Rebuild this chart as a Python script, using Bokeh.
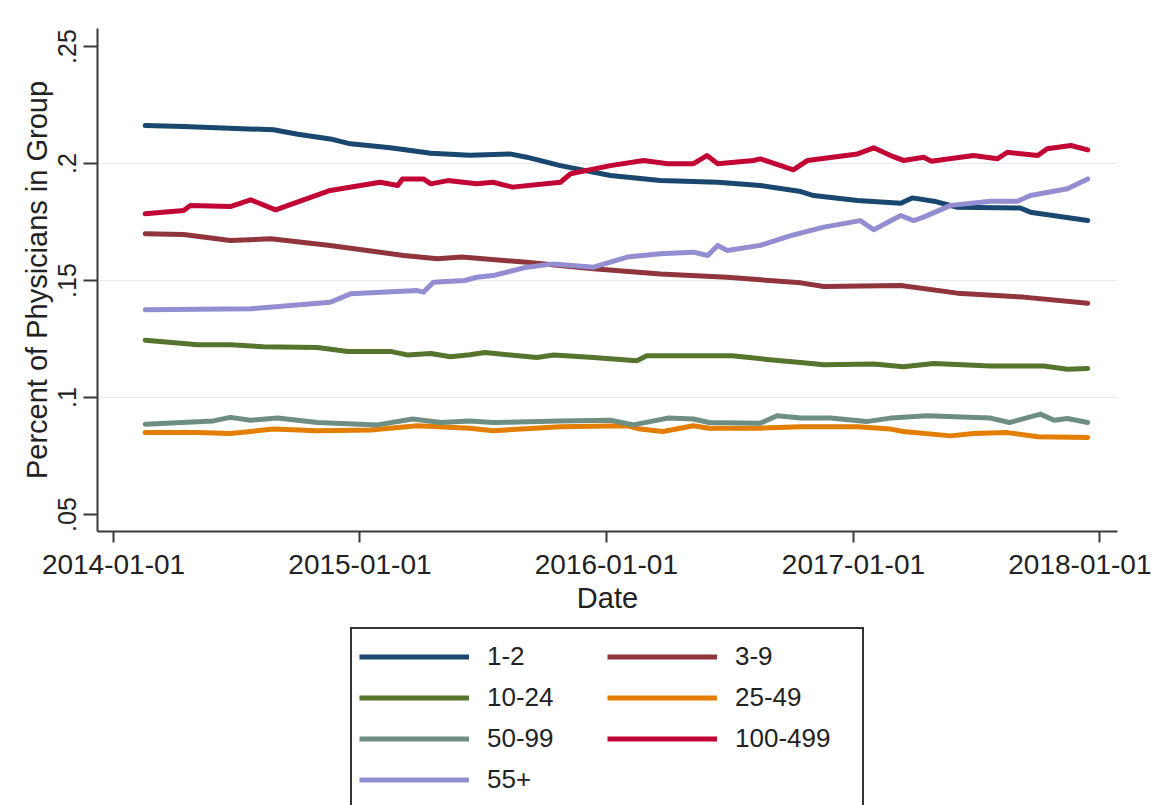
import pandas as pd
from bokeh.plotting import figure
from bokeh.layouts import column
from bokeh.models import Range1d, FixedTicker, DatetimeTickFormatter, Legend, LegendItem
from bokeh.embed import file_html
from bokeh.resources import INLINE

# ---------------- data ----------------
labels = ["1-2", "3-9", "10-24", "25-49", "50-99", "100-499", "55+"]
colors = ["#1a476f", "#90353b", "#55752f", "#e37e00", "#6e8e84", "#c10534", "#938dd2"]

d_1_2 = ["2014-02-17", "2014-04-15", "2014-07-01", "2014-08-26", "2014-10-01", "2014-11-18",
         "2014-12-18", "2015-02-15", "2015-04-16", "2015-06-13", "2015-08-11", "2015-09-05",
         "2015-10-25", "2016-01-07", "2016-03-21", "2016-06-14", "2016-08-16", "2016-10-15",
         "2016-11-03", "2017-01-07", "2017-03-12", "2017-03-29", "2017-04-30", "2017-06-04",
         "2017-09-05", "2017-09-20", "2017-12-14"]
v_1_2 = [0.2162, 0.2158, 0.2150, 0.2144, 0.2125, 0.2105,
         0.2084, 0.2067, 0.2044, 0.2035, 0.2041, 0.2027,
         0.1991, 0.1949, 0.1927, 0.1920, 0.1906, 0.1880,
         0.1863, 0.1842, 0.1830, 0.1853, 0.1839, 0.1813,
         0.1810, 0.1792, 0.1756]

d_3_9 = ["2014-02-17", "2014-04-15", "2014-06-23", "2014-08-22", "2014-11-18", "2015-03-07",
         "2015-04-26", "2015-06-01", "2015-09-05", "2015-12-13", "2016-03-21", "2016-06-28",
         "2016-10-15", "2016-11-18", "2017-03-12", "2017-06-04", "2017-09-10", "2017-12-14"]
v_3_9 = [0.1700, 0.1697, 0.1671, 0.1678, 0.1650, 0.1607,
         0.1593, 0.1600, 0.1578, 0.1550, 0.1528, 0.1514,
         0.1490, 0.1474, 0.1479, 0.1446, 0.1429, 0.1403]

d_10_24 = ["2014-02-17", "2014-04-15", "2014-05-05", "2014-06-23", "2014-08-11", "2014-10-30",
           "2014-12-14", "2015-02-15", "2015-03-12", "2015-04-16", "2015-05-15", "2015-06-13",
           "2015-07-05", "2015-09-20", "2015-10-15", "2015-12-13", "2016-02-15", "2016-03-01",
           "2016-05-09", "2016-07-05", "2016-09-15", "2016-10-15", "2016-11-18", "2017-01-31",
           "2017-03-16", "2017-04-30", "2017-07-23", "2017-10-10", "2017-11-14", "2017-12-14"]
v_10_24 = [0.1245, 0.1231, 0.1225, 0.1225, 0.1217, 0.1214,
           0.1197, 0.1197, 0.1182, 0.1188, 0.1174, 0.1183,
           0.1192, 0.1171, 0.1182, 0.1171, 0.1157, 0.1178,
           0.1178, 0.1178, 0.1157, 0.1150, 0.1140, 0.1143,
           0.1131, 0.1145, 0.1135, 0.1135, 0.1121, 0.1124]

d_25_49 = ["2014-02-17", "2014-05-05", "2014-06-23", "2014-08-26", "2014-10-30", "2015-01-17",
           "2015-03-27", "2015-06-13", "2015-07-17", "2015-10-25", "2016-02-01", "2016-02-20",
           "2016-03-25", "2016-05-09", "2016-06-01", "2016-08-16", "2016-10-15", "2016-11-18",
           "2017-01-07", "2017-02-25", "2017-03-16", "2017-05-25", "2017-06-28", "2017-08-17",
           "2017-10-01", "2017-12-14"]
v_25_49 = [0.0850, 0.0850, 0.0846, 0.0865, 0.0858, 0.0861,
           0.0879, 0.0869, 0.0858, 0.0875, 0.0879, 0.0865,
           0.0855, 0.0879, 0.0869, 0.0869, 0.0875, 0.0875,
           0.0875, 0.0865, 0.0855, 0.0836, 0.0846, 0.0850,
           0.0832, 0.0829]

d_50_99 = ["2014-02-17", "2014-05-29", "2014-06-23", "2014-07-23", "2014-09-01", "2014-10-30",
           "2015-01-27", "2015-03-20", "2015-05-01", "2015-06-13", "2015-07-17", "2015-10-25",
           "2016-01-07", "2016-02-10", "2016-04-01", "2016-05-09", "2016-06-01", "2016-08-16",
           "2016-09-10", "2016-10-15", "2016-11-28", "2017-01-20", "2017-02-25", "2017-04-20",
           "2017-07-23", "2017-08-20", "2017-10-05", "2017-10-25", "2017-11-14", "2017-12-14"]
v_50_99 = [0.0886, 0.0900, 0.0915, 0.0903, 0.0912, 0.0893,
           0.0883, 0.0908, 0.0893, 0.0900, 0.0893, 0.0900,
           0.0903, 0.0883, 0.0912, 0.0908, 0.0893, 0.0890,
           0.0922, 0.0912, 0.0912, 0.0897, 0.0912, 0.0922,
           0.0912, 0.0893, 0.0929, 0.0903, 0.0910, 0.0893]

d_100_499 = ["2014-02-17", "2014-04-15", "2014-04-25", "2014-06-23", "2014-07-23", "2014-08-29",
             "2014-11-18", "2015-01-31", "2015-02-26", "2015-03-05", "2015-04-05", "2015-04-16",
             "2015-05-11", "2015-06-23", "2015-07-17", "2015-08-15", "2015-10-25", "2015-11-09",
             "2016-01-07", "2016-02-25", "2016-04-01", "2016-05-09", "2016-05-29", "2016-06-14",
             "2016-08-06", "2016-08-16", "2016-10-04", "2016-10-25", "2017-01-07", "2017-01-31",
             "2017-02-25", "2017-03-16", "2017-04-15", "2017-04-26", "2017-06-28", "2017-08-02",
             "2017-08-17", "2017-10-01", "2017-10-15", "2017-11-19", "2017-12-14"]
v_100_499 = [0.1785, 0.1799, 0.1821, 0.1816, 0.1845, 0.1802,
             0.1885, 0.1920, 0.1906, 0.1934, 0.1934, 0.1913,
             0.1927, 0.1913, 0.1920, 0.1899, 0.1920, 0.1956,
             0.1991, 0.2013, 0.1999, 0.1999, 0.2034, 0.1999,
             0.2013, 0.2020, 0.1973, 0.2013, 0.2041, 0.2067,
             0.2034, 0.2013, 0.2027, 0.2010, 0.2034, 0.2020,
             0.2048, 0.2034, 0.2063, 0.2077, 0.2058]

d_55 = ["2014-02-17", "2014-07-23", "2014-11-18", "2014-12-18", "2015-03-27", "2015-04-05",
        "2015-04-20", "2015-06-05", "2015-06-23", "2015-07-17", "2015-09-05", "2015-10-15",
        "2015-12-13", "2016-02-01", "2016-03-21", "2016-05-09", "2016-05-30", "2016-06-14",
        "2016-06-28", "2016-08-16", "2016-09-30", "2016-11-18", "2017-01-11", "2017-01-31",
        "2017-03-12", "2017-03-31", "2017-04-15", "2017-05-25", "2017-07-23", "2017-09-01",
        "2017-09-20", "2017-11-14", "2017-12-14"]
v_55 = [0.1375, 0.1379, 0.1407, 0.1443, 0.1457, 0.1450,
        0.1493, 0.1500, 0.1514, 0.1521, 0.1557, 0.1571,
        0.1557, 0.1600, 0.1614, 0.1621, 0.1607, 0.1650,
        0.1628, 0.1650, 0.1692, 0.1728, 0.1756, 0.1717,
        0.1778, 0.1756, 0.1771, 0.1821, 0.1839, 0.1839,
        0.1863, 0.1892, 0.1934]

series_dates = [d_1_2, d_3_9, d_10_24, d_25_49, d_50_99, d_100_499, d_55]
series_vals = [v_1_2, v_3_9, v_10_24, v_25_49, v_50_99, v_100_499, v_55]

x_ticks = ["2014-01-01", "2015-01-01", "2016-01-01", "2017-01-01", "2018-01-01"]
y_ticks = [0.05, 0.10, 0.15, 0.20, 0.25]
y_tick_labels = [".05", ".1", ".15", ".2", ".25"]
grid_ticks = [0.10, 0.15, 0.20]

LINE_W = 5

# ---------------- main chart ----------------
base = pd.Timestamp("2014-01-01")
x_start = base - pd.Timedelta(days=23.7)
x_end = base + pd.Timedelta(days=1487.1)

p = figure(width=1151, height=623, x_axis_type="datetime",
           x_range=Range1d(x_start, x_end), y_range=Range1d(0.04274, 0.25769),
           output_backend="svg", toolbar_location=None,
           min_border_left=97, min_border_right=34, min_border_top=28, min_border_bottom=92)
p.outline_line_color = None
p.background_fill_color = "white"
p.border_fill_color = "white"

axis_font = "Liberation Sans"
axis_color = "#3a3a3a"
text_color = "#222222"

# x axis
p.xaxis.ticker = FixedTicker(ticks=[pd.Timestamp(t).value / 1e6 for t in x_ticks])
p.xaxis.formatter = DatetimeTickFormatter(days="%Y-%m-%d", months="%Y-%m-%d", years="%Y-%m-%d")
p.xaxis.axis_label = "Date"
p.xaxis.axis_line_color = axis_color
p.xaxis.axis_line_width = 2
p.xaxis.major_tick_line_color = axis_color
p.xaxis.major_tick_line_width = 2
p.xaxis.major_tick_out = 11
p.xaxis.major_tick_in = 0
p.xaxis.minor_tick_line_color = None
p.xaxis.major_label_text_font = axis_font
p.xaxis.major_label_text_font_size = "28px"
p.xaxis.major_label_text_color = text_color
p.xaxis.major_label_standoff = 12
p.xaxis.axis_label_text_font = axis_font
p.xaxis.axis_label_text_font_size = "29px"
p.xaxis.axis_label_text_font_style = "normal"
p.xaxis.axis_label_text_color = text_color
p.xaxis.axis_label_standoff = 5

# y axis
p.yaxis.ticker = FixedTicker(ticks=y_ticks)
p.yaxis.major_label_overrides = {t: l for t, l in zip(y_ticks, y_tick_labels)}
p.yaxis.major_label_orientation = "vertical"
p.yaxis.axis_label = "Percent of Physicians in Group"
p.yaxis.axis_line_color = axis_color
p.yaxis.axis_line_width = 2
p.yaxis.major_tick_line_color = axis_color
p.yaxis.major_tick_line_width = 2
p.yaxis.major_tick_out = 14
p.yaxis.major_tick_in = 0
p.yaxis.minor_tick_line_color = None
p.yaxis.major_label_text_font = axis_font
p.yaxis.major_label_text_font_size = "25px"
p.yaxis.major_label_text_color = text_color
p.yaxis.major_label_standoff = 7
p.yaxis.axis_label_text_font = axis_font
p.yaxis.axis_label_text_font_size = "29px"
p.yaxis.axis_label_text_font_style = "normal"
p.yaxis.axis_label_text_color = text_color
p.yaxis.axis_label_standoff = 3

p.xgrid.grid_line_color = None
p.ygrid.ticker = FixedTicker(ticks=grid_ticks)
p.ygrid.grid_line_color = "#e4ecef"
p.ygrid.grid_line_width = 1

for dates, vals, col in zip(series_dates, series_vals, colors):
    p.line(pd.to_datetime(dates), vals, line_color=col, line_width=LINE_W,
           line_join="round", line_cap="round")

# ---------------- legend strip ----------------
# same series, drawn in a strip whose ranges keep the lines out of view;
# only the legend of this strip is visible
pl = figure(width=1151, height=182, x_range=Range1d(0, 1), y_range=Range1d(0, 1),
            output_backend="svg", toolbar_location=None,
            x_axis_location=None, y_axis_location=None,
            min_border_left=0, min_border_right=0, min_border_top=0, min_border_bottom=0)
pl.outline_line_color = None
pl.grid.grid_line_color = None
pl.background_fill_color = "white"
pl.border_fill_color = "white"

leg_renderers = [pl.line(pd.to_datetime(dates), vals, line_color=col, line_width=LINE_W)
                 for dates, vals, col in zip(series_dates, series_vals, colors)]

legend = Legend(items=[LegendItem(label=l, renderers=[r]) for l, r in zip(labels, leg_renderers)],
                orientation="horizontal", ncols=2,
                location=(253, -4),
                glyph_width=110, glyph_height=41, label_height=41, label_width=120,
                label_standoff=18, spacing=0, padding=7, margin=0,
                label_text_font="Liberation Sans", label_text_font_size="26px",
                label_text_color=text_color,
                border_line_color="#333333", border_line_width=2, border_line_alpha=1.0,
                background_fill_color="white", background_fill_alpha=1.0)
pl.add_layout(legend, "center")

layout = column(p, pl, spacing=0)
open("out.html", "w").write(file_html(layout, INLINE))
